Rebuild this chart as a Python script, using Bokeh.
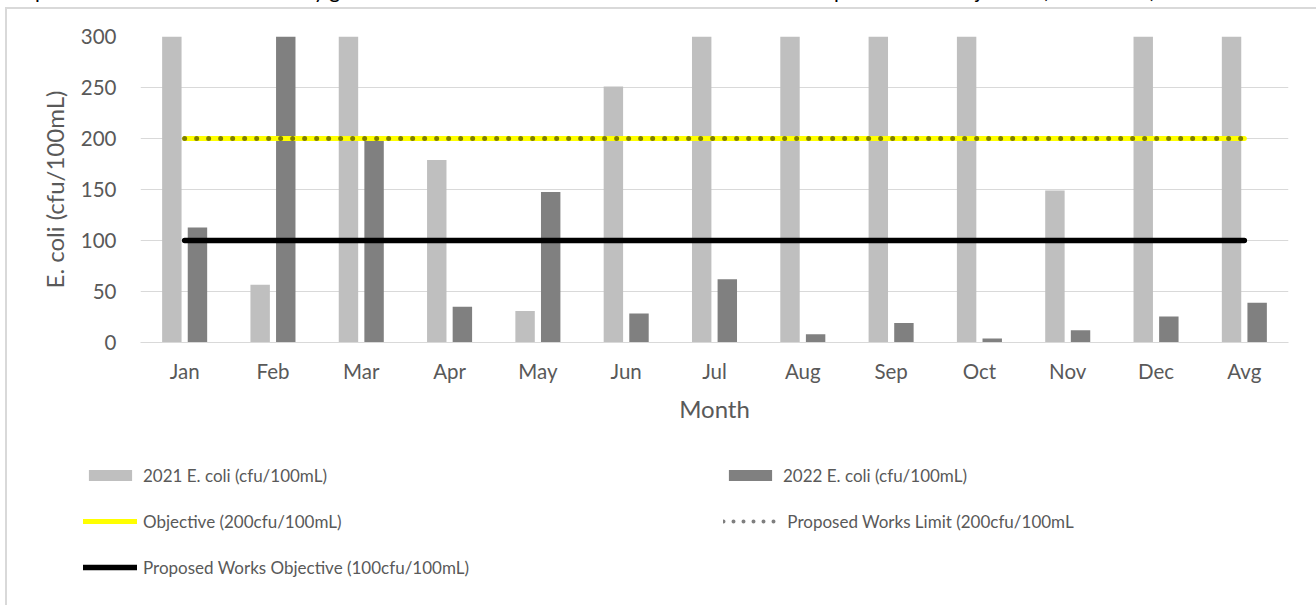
from bokeh.plotting import figure
from bokeh.layouts import column
from bokeh.models import Range1d, FixedTicker, Legend, LegendItem, Div
from bokeh.transform import dodge
from bokeh.embed import file_html
from bokeh.resources import INLINE

# Monthly geometric mean E. coli (cfu/100mL); values above 300 run off the axis
months = ["Jan", "Feb", "Mar", "Apr", "May", "Jun", "Jul",
          "Aug", "Sep", "Oct", "Nov", "Dec", "Avg"]
ecoli_2021 = [420, 56.5, 460, 179, 31, 251, 520, 610, 380, 700, 149, 450, 390]
ecoli_2022 = [112.7, 340, 198, 35, 147.5, 28.5, 62, 8, 19, 4, 12, 25.5, 39]
objective = [200, 200, 200, 200, 200, 200, 200, 200, 200, 200, 200, 200, 200]
works_limit = [200, 200, 200, 200, 200, 200, 200, 200, 200, 200, 200, 200, 200]
works_objective = [100, 100, 100, 100, 100, 100, 100, 100, 100, 100, 100, 100, 100]
y_ticks = [0, 50, 100, 150, 200, 250, 300]

title_text = ("Graph 1: Beach Site E. coli monthly geometric mean concentration "
              "for 2021 and 2022 compared to the objective (cfu/100mL)")

FONT = "Lato"
TXT = "#595959"
GRID = "#d9d9d9"
C21, C22 = "#bfbfbf", "#808080"
YELLOW, OLIVE, DOTKEY = "#ffff00", "#7f7f00", "#7f7f7f"

# ---- heading strip (only its lower edge shows above the chart box) ----
heading = Div(text=f'<div style="position:relative; top:-22px; font-family:Lato; '
                   f'font-size:21px; line-height:24px; white-space:nowrap; '
                   f'color:#000000; padding-left:2px">{title_text}</div>',
              width=1316, height=7, margin=0,
              styles={"overflow": "hidden"})

# ---- main chart ----
p = figure(x_range=months, y_range=Range1d(0, 300),
           width=1316, height=423, output_backend="svg", toolbar_location=None,
           min_border_left=140, min_border_right=28,
           min_border_top=29, min_border_bottom=88, margin=0)
p.frame_align = False
p.outline_line_color = None
p.border_fill_color = None
p.background_fill_color = "white"

data = dict(month=months, y21=ecoli_2021, y22=ecoli_2022,
            obj=objective, lim=works_limit, wobj=works_objective)

p.vbar(x=dodge("month", -0.145, range=p.x_range), top="y21", width=0.22,
       source=data, fill_color=C21, line_color=None)
p.vbar(x=dodge("month", 0.145, range=p.x_range), top="y22", width=0.22,
       source=data, fill_color=C22, line_color=None)
p.line("month", "obj", source=data, line_color=YELLOW,
       line_width=5, line_cap="round")
p.line("month", "lim", source=data, line_color=OLIVE,
       line_width=5, line_cap="round", line_dash="0 12")
p.line("month", "wobj", source=data, line_color="black",
       line_width=5.5, line_cap="round")

p.xgrid.grid_line_color = None
p.ygrid.grid_line_color = GRID
p.ygrid.grid_line_width = 1
p.yaxis.ticker = FixedTicker(ticks=y_ticks)
for ax in (p.xaxis[0], p.yaxis[0]):
    ax.major_tick_line_color = None
    ax.minor_tick_line_color = None
    ax.major_label_text_font = FONT
    ax.major_label_text_color = TXT
    ax.major_label_text_font_size = "20.5px"
    ax.axis_label_text_font = FONT
    ax.axis_label_text_color = TXT
    ax.axis_label_text_font_size = "24px"
    ax.axis_label_text_font_style = "normal"
p.yaxis.axis_line_color = None
p.xaxis.axis_line_color = GRID
p.yaxis.major_label_standoff = 18
p.xaxis.major_label_standoff = 10
p.yaxis.axis_label = "E. coli (cfu/100mL)"
p.yaxis.axis_label_standoff = 9
p.xaxis.axis_label = "Month"
p.xaxis.axis_label_standoff = 8

# ---- legend strip ----
lf = figure(x_range=Range1d(0, 1316), y_range=Range1d(0, 175),
            width=1316, height=175, output_backend="svg", toolbar_location=None,
            x_axis_type=None, y_axis_type=None, min_border=0, margin=0)
lf.frame_align = False
lf.outline_line_color = None
lf.border_fill_color = None
lf.background_fill_color = None
lf.grid.grid_line_color = None

# key glyphs (their single points sit outside the visible ranges)
k21 = lf.vbar(x=[-500], top=[-500], width=1, fill_color=C21, line_color=None)
k22 = lf.vbar(x=[-500], top=[-500], width=1, fill_color=C22, line_color=None)
kobj = lf.line(x=[-500, -400], y=[-500, -500], line_color=YELLOW,
               line_width=5, line_cap="round")
klim = lf.line(x=[-500, -400], y=[-500, -500], line_color=DOTKEY, line_width=4,
               line_cap="round", line_dash="0 10")
kwobj = lf.line(x=[-500, -400], y=[-500, -500], line_color="black",
                line_width=5.5, line_cap="round")


def make_legend(items, loc):
    lg = Legend(items=items, location=loc, orientation="vertical",
                glyph_width=54, glyph_height=14, label_height=20,
                label_standoff=6, spacing=25, padding=0, margin=0,
                border_line_color=None, background_fill_alpha=0,
                label_text_font=FONT, label_text_color=TXT,
                label_text_font_size="17px")
    lf.add_layout(lg, "center")


make_legend([LegendItem(label="2021 E. coli (cfu/100mL)", renderers=[k21]),
             LegendItem(label="Objective (200cfu/100mL)", renderers=[kobj]),
             LegendItem(label="Proposed Works Objective (100cfu/100mL)",
                        renderers=[kwobj])], (83, 27.5))
make_legend([LegendItem(label="2022 E. coli (cfu/100mL)", renderers=[k22]),
             LegendItem(label=" Proposed Works Limit (200cfu/100mL",
                        renderers=[klim])], (723, 73.5))

# light grey chart-area box edges (left and top) behind the transparent canvases
box_edges = ("linear-gradient(#d9d9d9,#d9d9d9) 5px 7px / 2px calc(100% - 7px) no-repeat, "
             "linear-gradient(#d9d9d9,#d9d9d9) 5px 7px / calc(100% - 5px) 2px no-repeat, "
             "#ffffff")
page = column(heading, p, lf, spacing=0, margin=0,
              styles={"background": box_edges})

open("out.html", "w").write(file_html(page, INLINE))
